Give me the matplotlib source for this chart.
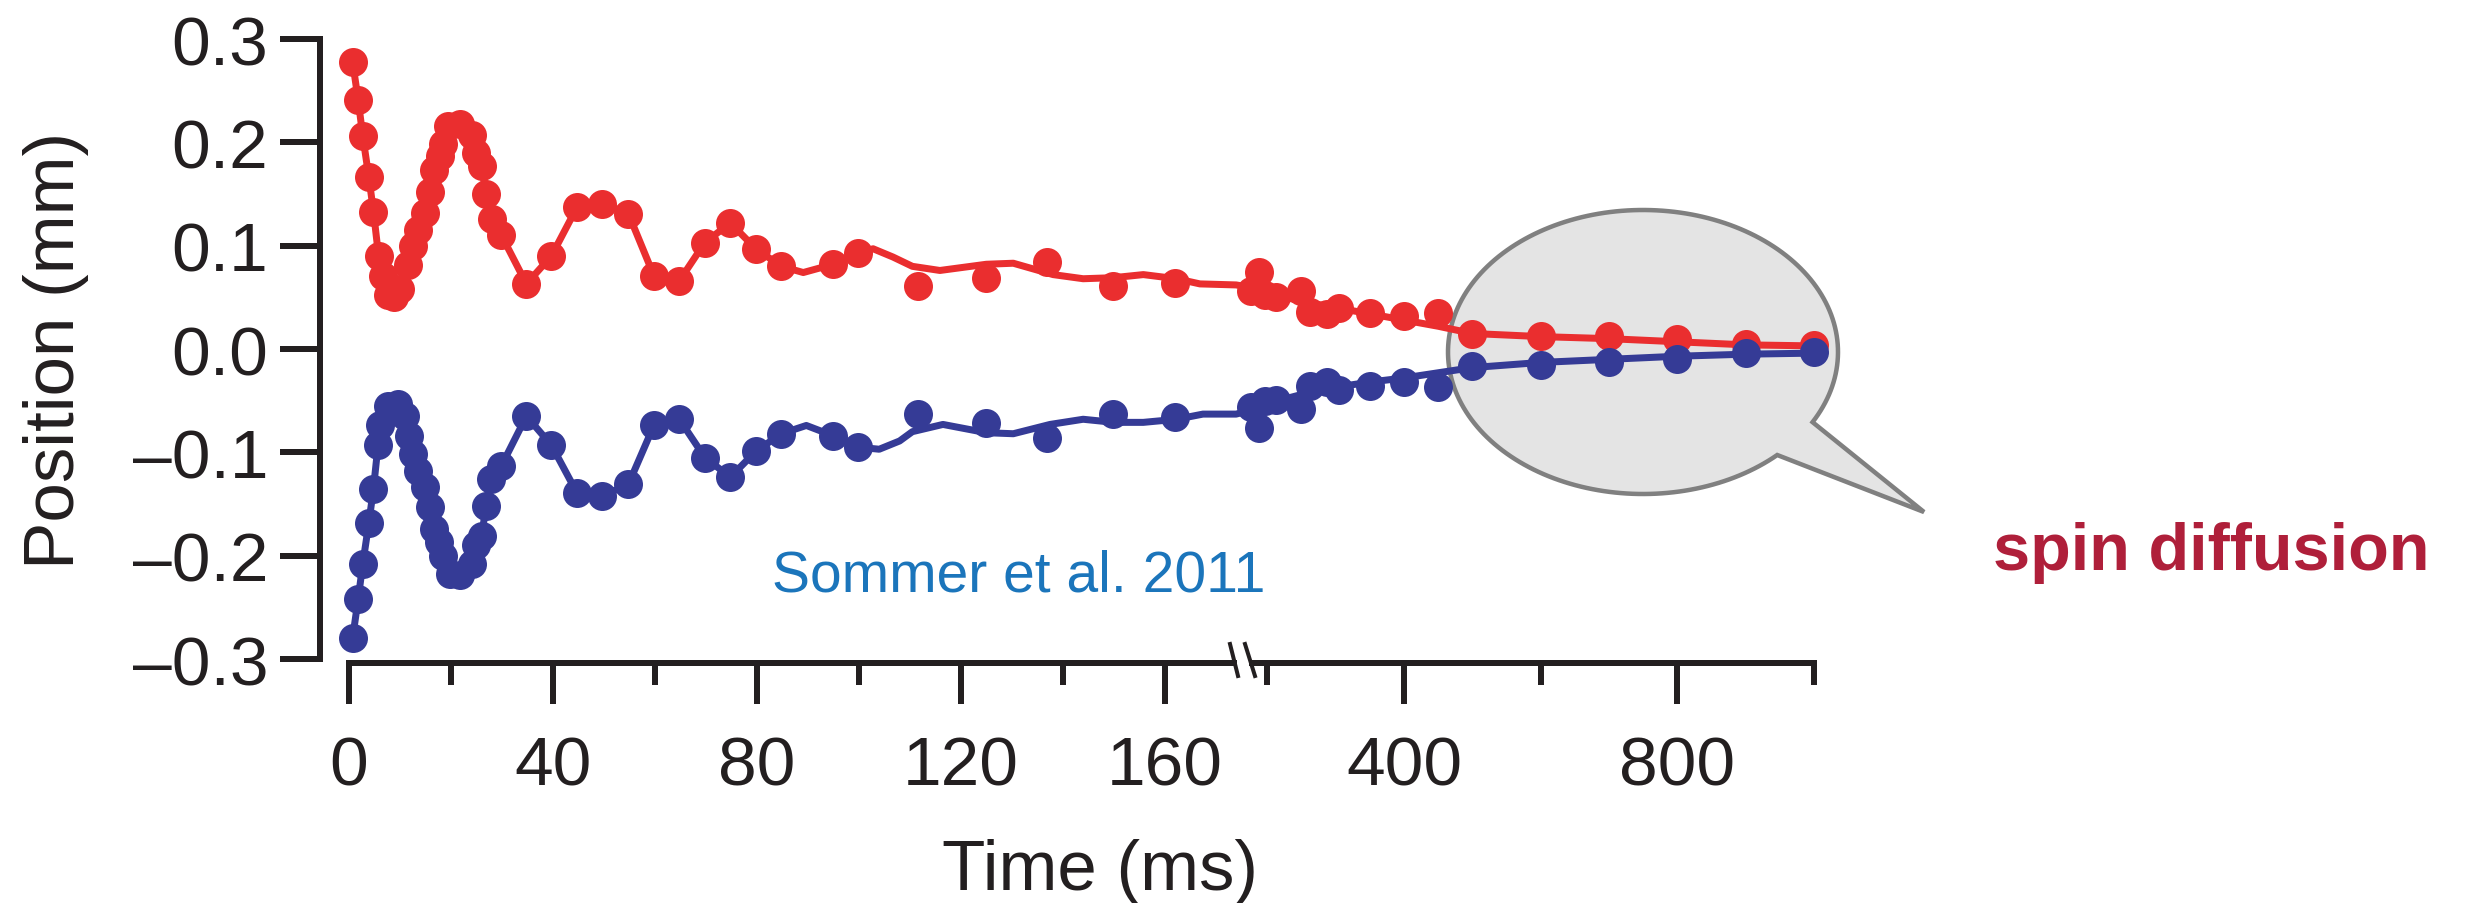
import numpy as np
import matplotlib

matplotlib.use("Agg")
import matplotlib.pyplot as plt
from matplotlib.lines import Line2D
from matplotlib.patches import PathPatch, Rectangle
from matplotlib.path import Path

# ---- data ----
red_time = [0.7, 1.8, 2.7, 3.9, 4.8, 5.8, 6.7, 7.7, 8.8, 10.0, 11.6, 12.6, 13.6,
            14.9, 15.9, 16.7, 17.8, 18.5, 19.5, 21.8, 24.1, 25.0, 26.0, 26.9,
            28.0, 29.9, 34.8, 39.7, 44.7, 49.7, 54.8, 59.8, 64.8, 69.8, 74.8,
            79.8, 84.8, 95.0, 99.9, 111.7, 125.0, 136.9, 149.9, 162.1,
            176, 187, 196, 212, 249, 262, 287, 305, 350, 400, 450, 500, 600,
            700, 800, 900, 1000]
red_pos = [0.278, 0.241, 0.206, 0.166, 0.133, 0.090, 0.071, 0.052, 0.050, 0.058,
           0.081, 0.100, 0.115, 0.132, 0.152, 0.173, 0.187, 0.198, 0.216, 0.218,
           0.207, 0.190, 0.177, 0.150, 0.126, 0.110, 0.063, 0.090, 0.137, 0.140,
           0.131, 0.071, 0.066, 0.103, 0.122, 0.097, 0.080, 0.082, 0.093, 0.061,
           0.069, 0.084, 0.061, 0.064,
           0.056, 0.075, 0.052, 0.050, 0.056, 0.036, 0.034, 0.040, 0.035, 0.032,
           0.035, 0.015, 0.013, 0.013, 0.010, 0.005, 0.004]

blue_time = [0.7, 1.8, 2.7, 3.9, 4.8, 5.7, 6.1, 7.7, 9.7, 11.0, 11.8, 12.6, 13.6,
             14.9, 15.8, 16.7, 17.7, 18.5, 19.8, 21.8, 24.1, 25.0, 26.0, 26.9,
             27.8, 29.9, 34.8, 39.7, 44.7, 49.7, 54.8, 59.8, 64.8, 69.8, 74.8,
             79.8, 84.8, 95.0, 99.9, 111.7, 125.0, 136.9, 149.9, 162.1,
             176, 187, 196, 212, 249, 262, 287, 305, 350, 400, 450, 500, 600,
             700, 800, 900, 1000]
blue_pos = [-0.280, -0.242, -0.208, -0.168, -0.135, -0.093, -0.074, -0.055, -0.053,
            -0.065, -0.084, -0.102, -0.118, -0.134, -0.153, -0.174, -0.187, -0.200,
            -0.218, -0.219, -0.208, -0.190, -0.181, -0.152, -0.126, -0.113, -0.065,
            -0.093, -0.139, -0.142, -0.131, -0.074, -0.068, -0.105, -0.124, -0.099,
            -0.082, -0.084, -0.095, -0.063, -0.072, -0.086, -0.063, -0.066,
            -0.056, -0.076, -0.050, -0.049, -0.058, -0.036, -0.032, -0.040, -0.036,
            -0.032, -0.037, -0.016, -0.015, -0.013, -0.010, -0.004, -0.003]

# smooth curves drawn through the later, sparser part
red_fit_time = [89.1, 95.0, 99.9, 102.8, 106.7, 110.5, 115.9, 125.0, 130.3, 138.1,
                144.0, 149.9, 155.8, 162.3, 166.9, 174.0, 190, 210, 250, 300, 350,
                400, 450, 500, 600, 700, 800, 900, 1000]
red_fit_pos = [0.074, 0.082, 0.093, 0.097, 0.089, 0.080, 0.076, 0.082, 0.083, 0.072,
               0.068, 0.069, 0.072, 0.068, 0.063, 0.062, 0.058, 0.053, 0.046, 0.040,
               0.034, 0.028, 0.022, 0.015, 0.012, 0.010, 0.007, 0.004, 0.003]
blue_fit_time = [89.7, 95.0, 99.9, 104.0, 108.0, 110.5, 116.5, 125.0, 130.3, 137.5,
                 144.0, 150.0, 155.8, 162.3, 167.5, 174.0, 190, 210, 250, 300, 350,
                 400, 450, 500, 600, 700, 800, 900, 1000]
blue_fit_pos = [-0.074, -0.084, -0.095, -0.097, -0.089, -0.080, -0.073, -0.081, -0.082,
                -0.073, -0.068, -0.071, -0.071, -0.068, -0.063, -0.063, -0.057, -0.051,
                -0.044, -0.037, -0.032, -0.028, -0.023, -0.018, -0.013, -0.010, -0.007,
                -0.005, -0.004]

x_major = [0, 40, 80, 120, 160, 400, 800]
x_minor = [20, 60, 100, 140, 200, 600, 1000]
y_ticks = [0.3, 0.2, 0.1, 0.0, -0.1, -0.2, -0.3]
y_labels = ["0.3", "0.2", "0.1", "0.0", "\u20130.1", "\u20130.2", "\u20130.3"]

# ---- style ----
RED = "#ea2e2f"
BLUE = "#353b96"
INK = "#231f20"
W, H, DPI = 2465, 904, 100

BREAK, GAP, SQUEEZE = 175.0, 1.8, 0.134


def forward(t):
    t = np.asarray(t, dtype=float)
    return np.where(t <= BREAK, t, BREAK + GAP + (t - BREAK) * SQUEEZE)


def inverse(u):
    u = np.asarray(u, dtype=float)
    late = BREAK + (u - BREAK - GAP) / SQUEEZE
    return np.where(u <= BREAK, u, np.where(u < BREAK + GAP, BREAK, late))


def fx(x):
    return x / W


def fy(y):
    return 1 - y / H


def pt(px):
    return px * 72 / DPI


plt.rcParams["font.family"] = ["Liberation Sans", "DejaVu Sans"]

fig = plt.figure(figsize=(W / DPI, H / DPI), dpi=DPI)
ax = fig.add_axes([fx(349), fy(660), (1814 - 349) / W, (660 - 40) / H])
ax.patch.set_visible(False)
ax.set_xscale("function", functions=(forward, inverse))
ax.set_xlim(0, 1000)
ax.set_ylim(-0.3, 0.3)

# speech bubble behind the data
cx, cy, a, b = 1643, 353, 195, 142
theta = np.radians(np.linspace(46.5, 389.6, 200))
bx = cx + a * np.cos(theta)
by = cy + b * np.sin(theta)
verts = [(fx(x), fy(y)) for x, y in zip(bx, by)] + [(fx(1924), fy(513)), (fx(bx[0]), fy(by[0]))]
codes = [Path.MOVETO] + [Path.LINETO] * (len(verts) - 2) + [Path.CLOSEPOLY]
bubble = PathPatch(Path(verts, codes), facecolor="#e4e4e4", edgecolor="#808080",
                   lw=pt(4.5), transform=fig.transFigure, clip_on=False, zorder=0.5)
ax.add_patch(bubble)

for time, pos, fit_t, fit_v, color in [
    (red_time, red_pos, red_fit_time, red_fit_pos, RED),
    (blue_time, blue_pos, blue_fit_time, blue_fit_pos, BLUE),
]:
    time = np.array(time)
    pos = np.array(pos)
    early = time < 86
    line_t = np.concatenate([time[early], fit_t])
    line_v = np.concatenate([pos[early], fit_v])
    ax.plot(line_t, line_v, color=color, lw=pt(7), clip_on=False, zorder=3,
            solid_joinstyle="round")
    ax.plot(time, pos, "o", ms=pt(29), color=color, mew=0, clip_on=False, zorder=3)

for side in ["top", "right"]:
    ax.spines[side].set_visible(False)
ax.spines["left"].set_position(("outward", pt(29)))
ax.spines["bottom"].set_position(("outward", pt(4)))
ax.spines["bottom"].set_bounds(0, 1000)
for side in ["left", "bottom"]:
    ax.spines[side].set_linewidth(pt(6))
    ax.spines[side].set_color(INK)

ax.set_xticks(x_major, labels=[str(v) for v in x_major])
ax.set_xticks(x_minor, minor=True)
ax.set_yticks(y_ticks, labels=y_labels)
ax.tick_params(axis="x", which="major", length=pt(41), width=pt(6), pad=pt(30),
               labelsize=50, color=INK, labelcolor=INK)
ax.tick_params(axis="x", which="minor", length=pt(22), width=pt(6), color=INK)
ax.tick_params(axis="y", length=pt(40), width=pt(6), pad=pt(12), labelsize=50,
               color=INK, labelcolor=INK)

# axis break
fig.add_artist(Rectangle((fx(1237), fy(676)), (1249 - 1237) / W, 24 / H,
                         facecolor="white", edgecolor="none", zorder=5))
for x0, x1 in [(1230, 1238), (1245, 1255)]:
    fig.add_artist(Line2D([fx(x0), fx(x1)], [fy(645), fy(677)], color=INK,
                          lw=pt(4), zorder=6))

fig.text(fx(56), fy(350), "Position (mm)", rotation=90, ha="center", va="center",
         fontsize=51, color=INK)
fig.text(fx(1100), fy(890), "Time (ms)", ha="center", va="baseline",
         fontsize=51, color=INK)
fig.text(fx(772), fy(592), "Sommer et al. 2011", ha="left", va="baseline",
         fontsize=41, color="#1b75bb")
fig.text(fx(1993), fy(570), "spin diffusion", ha="left", va="baseline",
         fontsize=48, fontweight="bold", color="#af1f3a")

fig.savefig("out.png", dpi=DPI)
